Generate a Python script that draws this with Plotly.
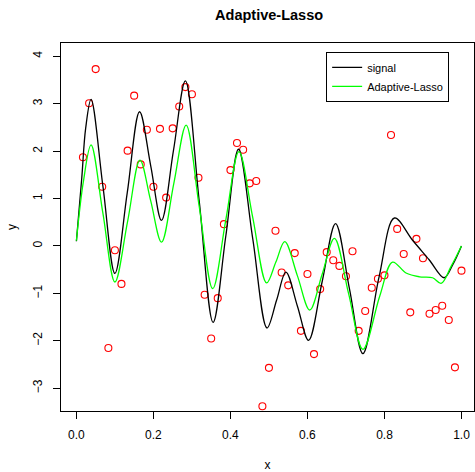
import plotly.graph_objects as go

# ---- data ----
obs_x = [0.017, 0.033, 0.050, 0.067, 0.083, 0.100, 0.117, 0.133, 0.150, 0.167,
         0.183, 0.200, 0.217, 0.233, 0.250, 0.267, 0.283, 0.300, 0.317, 0.333,
         0.350, 0.367, 0.383, 0.400, 0.417, 0.433, 0.450, 0.467, 0.483, 0.500,
         0.517, 0.533, 0.550, 0.567, 0.583, 0.600, 0.617, 0.633, 0.650, 0.667,
         0.683, 0.700, 0.717, 0.733, 0.750, 0.767, 0.783, 0.800, 0.817, 0.833,
         0.850, 0.867, 0.883, 0.900, 0.917, 0.933, 0.950, 0.967, 0.983, 1.000]
obs_y = [1.87, 3.01, 3.73, 1.25, -2.15, -0.09, -0.80, 2.01, 3.17, 1.72,
         2.45, 1.25, 2.47, 1.02, 2.48, 2.94, 3.35, 3.20, 1.44, -1.03,
         -1.95, -1.10, 0.46, 1.60, 2.17, 2.03, 1.32, 1.37, -3.38, -2.57,
         0.32, -0.56, -0.83, -0.15, -1.79, -0.59, -2.28, -0.91, -0.13, -0.30,
         -0.42, -0.64, -0.11, -1.79, -1.37, -0.88, -0.69, -0.62, 2.34, 0.36,
         -0.17, -1.40, 0.15, -0.26, -1.43, -1.35, -1.26, -1.56, -2.56, -0.52]

signal_x = [0.000, 0.014, 0.024, 0.038, 0.069, 0.100, 0.132, 0.164, 0.193, 0.221,
            0.252, 0.283, 0.319, 0.355, 0.388, 0.421, 0.458, 0.495, 0.520, 0.544,
            0.574, 0.603, 0.638, 0.673, 0.709, 0.744, 0.786, 0.826, 0.873, 0.916,
            0.955, 0.977, 1.000]
signal_y = [0.10, 1.44, 2.48, 3.09, 1.25, -0.58, 1.12, 2.83, 1.69, 0.54,
            2.01, 3.48, 0.94, -1.61, 0.21, 2.04, 0.15, -1.73, -1.14, -0.55,
            -1.27, -1.99, -0.76, 0.47, -0.90, -2.27, -0.65, 0.59, 0.12, -0.29,
            -0.67, -0.40, 0.00]

alasso_x = [0.000, 0.018, 0.038, 0.069, 0.100, 0.133, 0.165, 0.193, 0.221, 0.253,
            0.285, 0.319, 0.354, 0.388, 0.422, 0.458, 0.494, 0.518, 0.541, 0.574,
            0.606, 0.638, 0.670, 0.707, 0.744, 0.788, 0.821, 0.856, 0.891, 0.925,
            0.947, 0.973, 1.000]
alasso_y = [0.11, 1.35, 2.13, 0.68, -0.76, 0.52, 1.81, 0.95, 0.08, 1.32,
            2.55, 0.83, -0.90, 0.55, 1.99, 0.60, -0.78, -0.34, 0.09, -0.63,
            -1.35, -0.60, 0.16, -1.01, -2.18, -1.05, -0.34, -0.57, -0.65, -0.67,
            -0.79, -0.43, 0.00]

x_ticks = [0.0, 0.2, 0.4, 0.6, 0.8, 1.0]
x_tick_text = ["0.0", "0.2", "0.4", "0.6", "0.8", "1.0"]
y_ticks = [-3, -2, -1, 0, 1, 2, 3, 4]

FONT = "Liberation Sans, Arial, Helvetica, sans-serif"

fig = go.Figure()
fig.add_trace(go.Scatter(x=obs_x, y=obs_y, mode="markers", showlegend=False,
                         marker=dict(symbol="circle-open", size=7,
                                     line=dict(color="#ff0000", width=1.1),
                                     color="#ff0000"),
                         hoverinfo="x+y"))
fig.add_trace(go.Scatter(x=signal_x, y=signal_y, mode="lines", name="signal",
                         line=dict(color="#000000", width=1.3, shape="spline",
                                   smoothing=1.0)))
fig.add_trace(go.Scatter(x=alasso_x, y=alasso_y, mode="lines", name="Adaptive-Lasso",
                         line=dict(color="#00ff00", width=1.3, shape="spline",
                                   smoothing=1.0)))

axis_common = dict(showgrid=False, zeroline=False, showline=True, linecolor="#000000",
                   linewidth=1, mirror=True, ticks="outside", ticklen=7,
                   tickcolor="#000000", tickwidth=1,
                   tickfont=dict(family=FONT, size=12, color="#000000"))

fig.update_layout(
    width=475, height=472,
    margin=dict(l=61, r=0, t=43, b=55),
    paper_bgcolor="white", plot_bgcolor="white",
    font=dict(family=FONT, color="#000000"),
    title=dict(text="<b>Adaptive-Lasso</b>", x=0.5665, xanchor="center",
               y=0.968, yanchor="middle",
               font=dict(family=FONT, size=14.5, color="#000000")),
    xaxis=dict(range=[-0.04, 1.0325], tickvals=x_ticks, ticktext=x_tick_text,
               title=dict(text="x", font=dict(family=FONT, size=12), standoff=21),
               ticklabelstandoff=6, **axis_common),
    yaxis=dict(range=[-3.48, 4.28], tickvals=y_ticks, tickangle=-90,
               title=dict(text="y", font=dict(family=FONT, size=12), standoff=12),
               ticklabelstandoff=6, **axis_common),
    legend=dict(x=0.642, y=0.976, xanchor="left", yanchor="top",
                bordercolor="#000000", borderwidth=1, bgcolor="white",
                font=dict(family=FONT, size=11, color="#000000"),
                itemwidth=30, tracegroupgap=0),
)

fig.write_html("out.html")
